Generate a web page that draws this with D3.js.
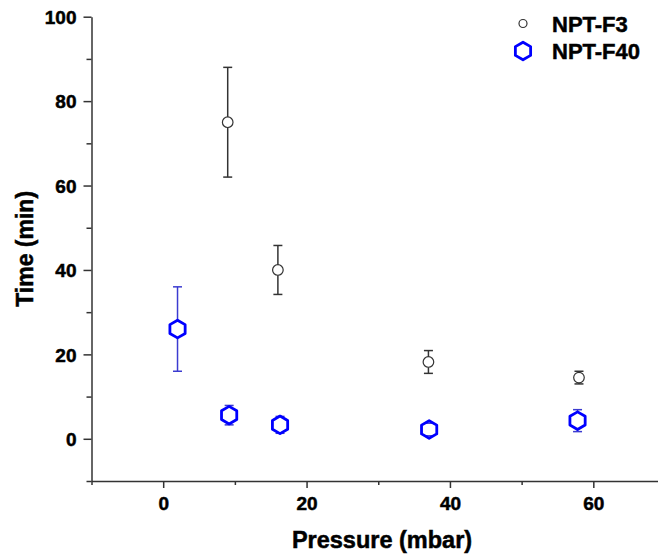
<!DOCTYPE html>
<html>
<head>
<meta charset="utf-8">
<script src="https://cdn.jsdelivr.net/npm/d3@7"></script>
<style>
  html, body { margin: 0; padding: 0; background: #fff; }
  svg { display: block; font-family: "Liberation Sans", Arial, sans-serif; }
</style>
</head>
<body>
<svg id="chart" width="658" height="557"></svg>
<script>
// ---- data ----
const seriesNames = ["NPT-F3", "NPT-F40"];
const f3Pressure = [9.0, 16.0, 37.0, 58.0];
const f3Time = [75, 40, 18.2, 14.5];
const f3Err = [13, 5.8, 2.7, 1.5];
const f40Pressure = [2.0, 9.2, 16.3, 37.1, 57.8];
const f40Time = [26, 5.6, 3.3, 2.2, 4.3];
const f40Err = [10, 2.3, 2.0, 1.5, 2.6];
const xTicks = [-10, 0, 10, 20, 30, 40, 50, 60, 70];
const xLabels = [0, 20, 40, 60];
const yTicks = [-10, 0, 10, 20, 30, 40, 50, 60, 70, 80, 90, 100];
const yLabels = [0, 20, 40, 60, 80, 100];
const xTitle = "Pressure (mbar)";
const yTitle = "Time (min)";

const svg = d3.select("#chart");
const x = d3.scaleLinear().domain([-10, 70]).range([91.5, 665]);
const y = d3.scaleLinear().domain([-10, 100]).range([481, 16.7]);
const axisColor = "#333";

const boldText = sel => sel.style("font-weight", "bold").attr("fill", "#000")
  .attr("stroke", "#000").attr("stroke-width", 0.5);

// x axis
const xAxis = svg.append("g").attr("transform", `translate(0,${y(-10)})`)
  .call(d3.axisBottom(x).tickValues(xTicks).tickSize(7).tickSizeOuter(0)
    .tickFormat(d => xLabels.includes(d) ? d : ""));
xAxis.selectAll(".tick line").attr("y2", d => xLabels.includes(d) ? 7 : 4);
xAxis.selectAll(".tick text").attr("y", 16).attr("dy", "0.71em")
  .style("font-size", "19px").call(boldText);
// y axis
const yAxis = svg.append("g").attr("transform", `translate(${x(-10)},0)`)
  .call(d3.axisLeft(y).tickValues(yTicks).tickSize(8).tickSizeOuter(0)
    .tickFormat(d => yLabels.includes(d) ? d : ""));
yAxis.selectAll(".tick line").attr("x2", d => yLabels.includes(d) ? -8 : -5);
yAxis.selectAll(".tick text").attr("x", -15).attr("dy", "0.36em")
  .style("font-size", "19px").call(boldText);
svg.selectAll(".domain, .tick line").attr("stroke", axisColor).attr("stroke-width", 1.5);

// titles
svg.append("text").attr("x", 382).attr("y", 548).attr("text-anchor", "middle")
  .style("font-size", "23.5px").call(boldText)
  .text(xTitle);
svg.append("text").attr("transform", `translate(33,${(y(-10) + y(100)) / 2}) rotate(-90)`)
  .attr("text-anchor", "middle")
  .style("font-size", "23px").call(boldText)
  .text(yTitle);

// markers
const hexR = 8.8, circR = 5.3;
const hexPath = r => {
  const pts = d3.range(6).map(i => {
    const a = Math.PI / 3 * i - Math.PI / 2;
    return [r * Math.cos(a), r * Math.sin(a)];
  });
  return "M" + pts.map(p => p.join(",")).join("L") + "Z";
};

function errorBars(g, px, py, pe, color, rEdge, capW) {
  const data = px.map((d, i) => ({ x: px[i], y: py[i], e: pe[i] }));
  const eg = g.append("g").attr("stroke", color).attr("stroke-width", 1.5).attr("fill", "none");
  data.forEach(d => {
    const cx = x(d.x), cy = y(d.y), top = y(d.y + d.e), bot = y(d.y - d.e);
    if (cy - top > rEdge) eg.append("line").attr("x1", cx).attr("x2", cx).attr("y1", top).attr("y2", cy - rEdge);
    if (bot - cy > rEdge) eg.append("line").attr("x1", cx).attr("x2", cx).attr("y1", cy + rEdge).attr("y2", bot);
    eg.append("line").attr("x1", cx - capW / 2).attr("x2", cx + capW / 2).attr("y1", top).attr("y2", top);
    eg.append("line").attr("x1", cx - capW / 2).attr("x2", cx + capW / 2).attr("y1", bot).attr("y2", bot);
  });
  return data;
}

const gF3 = svg.append("g");
const f3Data = errorBars(gF3, f3Pressure, f3Time, f3Err, "#333", circR, 9);
gF3.selectAll("circle").data(f3Data).join("circle")
  .attr("cx", d => x(d.x)).attr("cy", d => y(d.y)).attr("r", circR)
  .attr("fill", "none").attr("stroke", "#333").attr("stroke-width", 1.2);

const gF40 = svg.append("g");
const f40Data = errorBars(gF40, f40Pressure, f40Time, f40Err, "#3b3bd0", hexR, 9);
gF40.selectAll("path.hex").data(f40Data).join("path").attr("class", "hex")
  .attr("transform", d => `translate(${x(d.x)},${y(d.y)})`)
  .attr("d", hexPath(hexR))
  .attr("fill", "none").attr("stroke", "#0000ff").attr("stroke-width", 2.8)
  .attr("stroke-linejoin", "round");

// legend
const legend = svg.append("g");
legend.append("circle").attr("cx", 523).attr("cy", 23.5).attr("r", 4)
  .attr("fill", "none").attr("stroke", "#333").attr("stroke-width", 1.2);
legend.append("path").attr("transform", "translate(523,51)").attr("d", hexPath(hexR))
  .attr("fill", "none").attr("stroke", "#0000ff").attr("stroke-width", 2.8)
  .attr("stroke-linejoin", "round");
legend.selectAll("text").data(seriesNames).join("text")
  .attr("x", 552).attr("y", (d, i) => [31.7, 59.3][i])
  .style("font-size", "22px").call(boldText)
  .text(d => d);
</script>
</body>
</html>
